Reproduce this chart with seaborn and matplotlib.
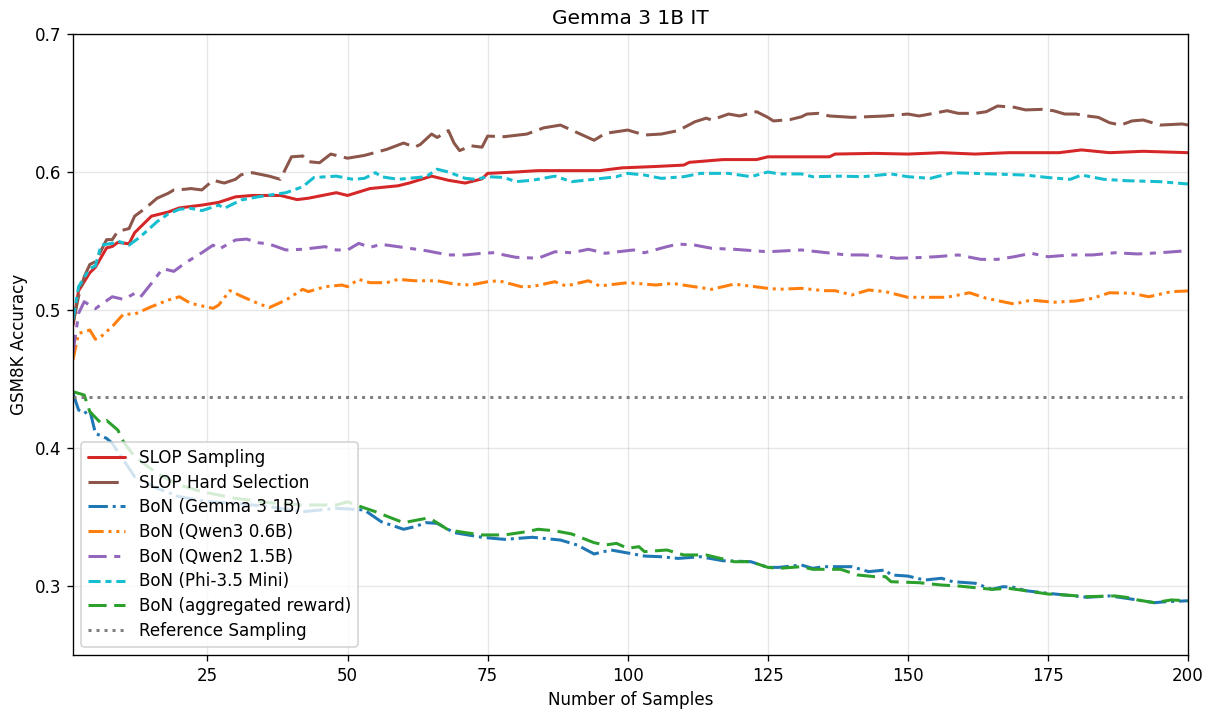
import matplotlib
matplotlib.use("Agg")
import matplotlib.pyplot as plt
import seaborn as sns

# ---------------- data ----------------
slop_sampling_x = [1, 2, 4, 5, 7, 8, 9, 11, 12, 15, 18, 20, 24, 27, 30, 33, 38, 41, 43, 48, 50, 54, 59, 61, 65, 68, 71, 74, 75, 80, 84, 90, 95, 99, 105, 110, 111, 117, 123, 125, 130, 136, 137, 144, 150, 156, 162, 168, 177, 181, 186, 192, 200]
slop_sampling_y = [0.489, 0.514, 0.527, 0.531, 0.545, 0.546, 0.549, 0.548, 0.556, 0.568, 0.571, 0.574, 0.576, 0.578, 0.582, 0.583, 0.583, 0.580, 0.581, 0.585, 0.583, 0.588, 0.590, 0.592, 0.597, 0.594, 0.592, 0.595, 0.599, 0.600, 0.601, 0.601, 0.601, 0.603, 0.604, 0.605, 0.607, 0.609, 0.609, 0.611, 0.611, 0.611, 0.613, 0.6135, 0.613, 0.614, 0.613, 0.614, 0.614, 0.616, 0.614, 0.615, 0.614]

slop_hard_x = [1, 2, 3, 4, 5, 7, 8, 9, 11, 12, 14, 16, 18, 19, 21, 22, 24, 26, 28, 30, 31, 33, 36, 38, 40, 42, 43, 45, 47, 50, 53, 57, 60, 62, 63, 65, 66, 68, 69, 70, 72, 74, 75, 78, 82, 85, 88, 91, 94, 96, 100, 103, 106, 109, 112, 114, 115, 118, 120, 123, 125, 126, 129, 131, 132, 134, 136, 140, 146, 150, 152, 153, 157, 159, 162, 164, 166, 169, 171, 174, 176, 178, 180, 182, 184, 186, 188, 190, 192, 195, 199, 200]
slop_hard_y = [0.490, 0.510, 0.524, 0.533, 0.535, 0.551, 0.551, 0.557, 0.559, 0.568, 0.574, 0.581, 0.5846, 0.587, 0.5875, 0.588, 0.587, 0.594, 0.592, 0.5947, 0.598, 0.5995, 0.597, 0.5947, 0.611, 0.6116, 0.6075, 0.6067, 0.613, 0.610, 0.612, 0.6164, 0.621, 0.618, 0.620, 0.6275, 0.625, 0.630, 0.621, 0.6155, 0.619, 0.618, 0.626, 0.6256, 0.6275, 0.632, 0.634, 0.6285, 0.623, 0.628, 0.6304, 0.6268, 0.6275, 0.630, 0.6364, 0.639, 0.6377, 0.642, 0.6406, 0.6437, 0.6396, 0.637, 0.638, 0.640, 0.642, 0.6425, 0.6406, 0.6396, 0.6406, 0.642, 0.6406, 0.6413, 0.6444, 0.6425, 0.6425, 0.6437, 0.6478, 0.6469, 0.645, 0.6454, 0.6444, 0.642, 0.642, 0.6406, 0.6396, 0.6357, 0.634, 0.637, 0.6377, 0.634, 0.6348, 0.634]

bon_gemma_x = [1, 2, 3, 4, 5, 7, 8, 10, 12, 16, 20, 25, 30, 36, 42, 48, 53, 56, 60, 62, 64, 66, 69, 74, 78, 83, 88, 91, 94, 97, 101, 103, 106, 109, 113, 117, 122, 125, 127, 131, 133, 135, 140, 143, 146, 147, 150, 153, 156, 158, 162, 165, 167, 169, 171, 175, 178, 182, 186, 189, 194, 196, 200]
bon_gemma_y = [0.4396, 0.4275, 0.4251, 0.4275, 0.4106, 0.407, 0.4034, 0.3913, 0.3792, 0.3708, 0.3647, 0.3611, 0.3599, 0.3575, 0.3538, 0.3563, 0.3551, 0.3466, 0.3411, 0.343, 0.3459, 0.3454, 0.3387, 0.3353, 0.3338, 0.3353, 0.3333, 0.3297, 0.3232, 0.3261, 0.3232, 0.3217, 0.3212, 0.320, 0.3212, 0.3183, 0.3176, 0.3135, 0.3135, 0.3152, 0.3128, 0.314, 0.314, 0.3104, 0.3116, 0.308, 0.3072, 0.3043, 0.3056, 0.3031, 0.302, 0.2976, 0.2995, 0.299, 0.2966, 0.2947, 0.2935, 0.2918, 0.2928, 0.2911, 0.2879, 0.2886, 0.2893]

bon_qwen3_x = [1, 2, 4, 5, 6, 8, 10, 12, 15, 18, 20, 22, 26, 27, 29, 31, 34, 36, 39, 42, 43, 46, 49, 50, 52, 54, 57, 59, 62, 66, 69, 72, 75, 77, 81, 83, 87, 89, 93, 95, 100, 105, 108, 111, 115, 119, 125, 127, 131, 135, 137, 140, 143, 146, 150, 157, 161, 164, 169, 172, 176, 180, 183, 186, 190, 193, 197, 200]
bon_qwen3_y = [0.464, 0.483, 0.4855, 0.4788, 0.4807, 0.488, 0.497, 0.497, 0.5024, 0.5072, 0.5096, 0.5048, 0.5012, 0.5036, 0.514, 0.5101, 0.5048, 0.5017, 0.5072, 0.515, 0.5133, 0.5169, 0.5181, 0.5169, 0.5222, 0.5198, 0.5198, 0.5222, 0.5212, 0.5212, 0.5188, 0.5181, 0.5205, 0.5212, 0.5169, 0.517, 0.5205, 0.5174, 0.5212, 0.5174, 0.5198, 0.5181, 0.5193, 0.5174, 0.515, 0.5188, 0.5157, 0.515, 0.5157, 0.514, 0.514, 0.5109, 0.5145, 0.5133, 0.5092, 0.5092, 0.5125, 0.5085, 0.5043, 0.5072, 0.5056, 0.5065, 0.5085, 0.5125, 0.5121, 0.5096, 0.5133, 0.5138]

bon_qwen2_x = [1, 2, 3, 5, 8, 10, 12, 13, 15, 17, 19, 21, 24, 26, 27, 30, 32, 34, 36, 39, 42, 46, 48, 50, 52, 54, 56, 59, 64, 68, 71, 74, 76, 80, 84, 87, 90, 93, 96, 101, 103, 107, 109, 112, 115, 119, 125, 131, 134, 139, 142, 145, 148, 152, 155, 159, 163, 166, 169, 172, 175, 179, 183, 187, 191, 195, 200]
bon_qwen2_y = [0.469, 0.4976, 0.506, 0.501, 0.5096, 0.5077, 0.512, 0.5092, 0.5193, 0.530, 0.528, 0.534, 0.5415, 0.547, 0.544, 0.5507, 0.5514, 0.5488, 0.5478, 0.5435, 0.544, 0.5459, 0.5435, 0.5435, 0.5483, 0.5454, 0.5476, 0.5459, 0.543, 0.5399, 0.5399, 0.5411, 0.5415, 0.5382, 0.5375, 0.5422, 0.5415, 0.544, 0.5411, 0.5435, 0.5415, 0.5459, 0.5478, 0.547, 0.5447, 0.544, 0.5422, 0.5435, 0.5422, 0.5399, 0.5399, 0.5391, 0.5375, 0.538, 0.5386, 0.5399, 0.5367, 0.5367, 0.5386, 0.5411, 0.5386, 0.5399, 0.5399, 0.5415, 0.5406, 0.5415, 0.543]

bon_phi_x = [1, 2, 4, 5, 6, 8, 9, 11, 13, 16, 18, 20, 22, 24, 27, 28, 31, 34, 39, 42, 44, 48, 50, 51, 53, 55, 56, 59, 64, 66, 68, 71, 73, 75, 78, 80, 83, 87, 90, 94, 98, 100, 103, 106, 110, 113, 118, 122, 125, 127, 131, 133, 138, 142, 147, 150, 154, 158, 165, 171, 175, 179, 181, 185, 189, 195, 200]
bon_phi_y = [0.493, 0.5169, 0.530, 0.532, 0.547, 0.5483, 0.550, 0.547, 0.553, 0.564, 0.5696, 0.573, 0.5737, 0.572, 0.576, 0.5737, 0.5797, 0.582, 0.585, 0.5893, 0.596, 0.597, 0.5954, 0.5947, 0.5954, 0.5995, 0.5966, 0.5947, 0.5966, 0.602, 0.600, 0.5954, 0.5947, 0.5966, 0.596, 0.593, 0.594, 0.597, 0.593, 0.5947, 0.5966, 0.599, 0.5978, 0.5954, 0.5966, 0.599, 0.599, 0.5966, 0.600, 0.5986, 0.5986, 0.5966, 0.597, 0.5966, 0.5986, 0.5966, 0.5954, 0.5995, 0.5986, 0.5978, 0.596, 0.5947, 0.5978, 0.5947, 0.5937, 0.593, 0.5913]

bon_agg_x = [1, 3, 4, 6, 7, 9, 10, 12, 16, 20, 24, 30, 36, 42, 48, 50, 52, 55, 58, 60, 64, 65, 68, 71, 74, 78, 82, 84, 87, 90, 94, 96, 98, 100, 102, 103, 107, 110, 114, 119, 122, 125, 127, 131, 133, 138, 141, 144, 146, 147, 152, 156, 159, 165, 168, 171, 175, 178, 182, 187, 189, 191, 194, 197, 200]
bon_agg_y = [0.4408, 0.4384, 0.4263, 0.418, 0.420, 0.413, 0.4046, 0.3937, 0.3816, 0.3732, 0.3683, 0.3635, 0.3604, 0.3587, 0.3587, 0.361, 0.358, 0.3538, 0.349, 0.3459, 0.349, 0.3483, 0.3406, 0.3387, 0.337, 0.337, 0.3394, 0.3411, 0.340, 0.3377, 0.3314, 0.3297, 0.3309, 0.3273, 0.3285, 0.3249, 0.3261, 0.3225, 0.3225, 0.3176, 0.3176, 0.3135, 0.3128, 0.314, 0.3121, 0.3121, 0.308, 0.3068, 0.3068, 0.3031, 0.3024, 0.3007, 0.300, 0.2976, 0.2983, 0.2966, 0.2942, 0.2935, 0.2923, 0.2928, 0.2918, 0.2899, 0.2879, 0.2899, 0.2893]

reference_accuracy = 0.437

labels = ["SLOP Sampling", "SLOP Hard Selection", "BoN (Gemma 3 1B)", "BoN (Qwen3 0.6B)",
          "BoN (Qwen2 1.5B)", "BoN (Phi-3.5 Mini)", "BoN (aggregated reward)", "Reference Sampling"]
x_ticks = [25, 50, 75, 100, 125, 150, 175, 200]
y_ticks = [0.3, 0.4, 0.5, 0.6, 0.7]

# ---------------- styling ----------------
sns.set_style("ticks")
plt.rcParams["font.family"] = ["DejaVu Sans"]
plt.rcParams["axes.edgecolor"] = "black"
plt.rcParams["xtick.color"] = "black"
plt.rcParams["ytick.color"] = "black"
plt.rcParams["text.color"] = "black"
plt.rcParams["axes.labelcolor"] = "black"

fig, ax = plt.subplots(figsize=(10, 711 / 121), dpi=121)
fig.subplots_adjust(left=73 / 1210, right=1188 / 1210, top=1 - 34 / 711, bottom=1 - 655 / 711)

lw = 1.8
series = [
    (slop_sampling_x, slop_sampling_y, labels[0], "#d62728", "-"),
    (slop_hard_x, slop_hard_y, labels[1], "#8c564b", (0, (10, 2.5))),
    (bon_gemma_x, bon_gemma_y, labels[2], "#1f77b4", (0, (6.4, 1.6, 1, 1.6))),
    (bon_qwen3_x, bon_qwen3_y, labels[3], "#ff7f0e", (0, (5, 1.6, 1, 1.6, 1, 1.6))),
    (bon_qwen2_x, bon_qwen2_y, labels[4], "#9467bd", (0, (6, 2.5, 2, 2.5))),
    (bon_phi_x, bon_phi_y, labels[5], "#17becf", (0, (4, 1.6, 2, 1.6))),
    (bon_agg_x, bon_agg_y, labels[6], "#2ca02c", (0, (6, 2.5))),
]
for xs, ys, lab, col, ls in series:
    sns.lineplot(x=xs, y=ys, ax=ax, color=col, label=lab, linewidth=lw, linestyle=ls)

ax.axhline(reference_accuracy, color="#7f7f7f", linestyle=":", linewidth=lw, label=labels[7])

ax.set_xlim(1, 200)
ax.set_ylim(0.25, 0.7)
ax.set_xticks(x_ticks)
ax.set_yticks(y_ticks)
ax.set_yticklabels([f"{v:.1f}" for v in y_ticks])
ax.grid(True, color="#b0b0b0", alpha=0.3, linewidth=0.8)
ax.set_xlabel("Number of Samples", fontsize=10, color="black")
ax.set_ylabel("GSM8K Accuracy", fontsize=10, color="black")
ax.set_title("Gemma 3 1B IT", fontsize=12, color="black")
ax.tick_params(labelsize=10, direction="out", length=3.5, colors="black")

ax.legend(loc="lower left", fontsize=10, frameon=True, framealpha=0.8, edgecolor="#cccccc",
          labelspacing=0.4, handlelength=2.2)

fig.savefig("out.png", dpi=121)
